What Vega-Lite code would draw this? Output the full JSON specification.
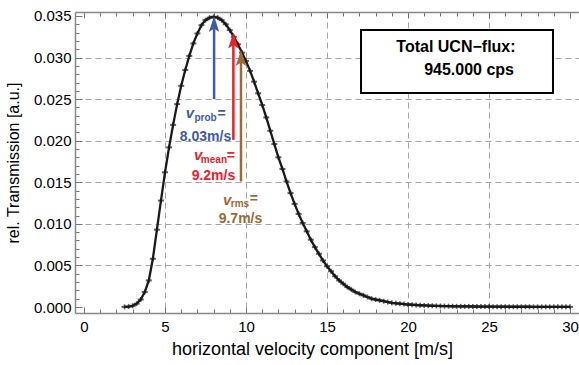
{
  "$schema": "https://vega.github.io/schema/vega-lite/v6.json",
  "width": 504,
  "height": 301,
  "autosize": "none",
  "padding": {"left": 75, "top": 12, "right": 0, "bottom": 52},
  "background": "white",
  "config": {
    "view": {"stroke": null},
    "font": "Liberation Sans",
    "axis": {
      "labelFont": "Liberation Sans",
      "titleFont": "Liberation Sans",
      "labelColor": "black",
      "titleColor": "black",
      "titleFontWeight": "normal",
      "domainColor": "#888888",
      "domainWidth": 1.5,
      "tickColor": "#777777",
      "tickWidth": 1,
      "gridColor": "#a6a6a6",
      "gridDash": [6, 4],
      "gridWidth": 1,
      "labelOverlap": false,
      "labelFlush": false,
      "labelBound": false
    }
  },
  "datasets": {
    "curve": [
      {"v": 2.5, "y": 0.00002}, {"v": 2.75, "y": 0.00005}, {"v": 3.0, "y": 0.00015}, {"v": 3.25, "y": 0.0004},
      {"v": 3.5, "y": 0.0009}, {"v": 3.75, "y": 0.0018}, {"v": 4.0, "y": 0.0032}, {"v": 4.25, "y": 0.0058},
      {"v": 4.5, "y": 0.0093}, {"v": 4.75, "y": 0.0128}, {"v": 5.0, "y": 0.0162}, {"v": 5.25, "y": 0.0192},
      {"v": 5.5, "y": 0.0219}, {"v": 5.75, "y": 0.0244}, {"v": 6.0, "y": 0.0266}, {"v": 6.25, "y": 0.0285},
      {"v": 6.5, "y": 0.0302}, {"v": 6.75, "y": 0.0317}, {"v": 7.0, "y": 0.0329}, {"v": 7.25, "y": 0.0339},
      {"v": 7.5, "y": 0.0345}, {"v": 7.75, "y": 0.0348}, {"v": 8.0, "y": 0.0349}, {"v": 8.25, "y": 0.0348},
      {"v": 8.5, "y": 0.0345}, {"v": 8.75, "y": 0.034}, {"v": 9.0, "y": 0.0333}, {"v": 9.25, "y": 0.0325},
      {"v": 9.5, "y": 0.0316}, {"v": 9.75, "y": 0.0306}, {"v": 10.0, "y": 0.0296}, {"v": 10.25, "y": 0.0284},
      {"v": 10.5, "y": 0.0271}, {"v": 10.75, "y": 0.0257}, {"v": 11.0, "y": 0.0243}, {"v": 11.25, "y": 0.0228},
      {"v": 11.5, "y": 0.0212}, {"v": 11.75, "y": 0.0196}, {"v": 12.0, "y": 0.018}, {"v": 12.25, "y": 0.0166},
      {"v": 12.5, "y": 0.0151}, {"v": 12.75, "y": 0.0137}, {"v": 13.0, "y": 0.0124}, {"v": 13.25, "y": 0.0112},
      {"v": 13.5, "y": 0.0101}, {"v": 13.75, "y": 0.0091}, {"v": 14.0, "y": 0.0081}, {"v": 14.25, "y": 0.0072},
      {"v": 14.5, "y": 0.0064}, {"v": 14.75, "y": 0.0056}, {"v": 15.0, "y": 0.0049}, {"v": 15.25, "y": 0.0043},
      {"v": 15.5, "y": 0.0037}, {"v": 15.75, "y": 0.0032}, {"v": 16.0, "y": 0.0028}, {"v": 16.25, "y": 0.0024},
      {"v": 16.5, "y": 0.0021}, {"v": 16.75, "y": 0.0018}, {"v": 17.0, "y": 0.0016}, {"v": 17.25, "y": 0.0014},
      {"v": 17.5, "y": 0.0012}, {"v": 17.75, "y": 0.001}, {"v": 18.0, "y": 0.0009}, {"v": 18.25, "y": 0.0008},
      {"v": 18.5, "y": 0.0007}, {"v": 18.75, "y": 0.0006}, {"v": 19.0, "y": 0.0005}, {"v": 19.25, "y": 0.00045},
      {"v": 19.5, "y": 0.0004}, {"v": 19.75, "y": 0.00035}, {"v": 20.0, "y": 0.0003}, {"v": 20.25, "y": 0.00027},
      {"v": 20.5, "y": 0.00024}, {"v": 20.75, "y": 0.00021}, {"v": 21.0, "y": 0.00019}, {"v": 21.25, "y": 0.00017},
      {"v": 21.5, "y": 0.00015}, {"v": 21.75, "y": 0.00013}, {"v": 22.0, "y": 0.00012}, {"v": 22.25, "y": 0.00011},
      {"v": 22.5, "y": 0.0001}, {"v": 22.75, "y": 0.00009}, {"v": 23.0, "y": 0.00008}, {"v": 23.25, "y": 0.00008},
      {"v": 23.5, "y": 0.00007}, {"v": 23.75, "y": 0.00007}, {"v": 24.0, "y": 0.00006}, {"v": 24.25, "y": 0.00006},
      {"v": 24.5, "y": 0.00005}, {"v": 24.75, "y": 0.00005}, {"v": 25.0, "y": 0.00005}, {"v": 25.25, "y": 0.00004},
      {"v": 25.5, "y": 0.00004}, {"v": 25.75, "y": 0.00004}, {"v": 26.0, "y": 0.00004}, {"v": 26.25, "y": 0.00003},
      {"v": 26.5, "y": 0.00003}, {"v": 26.75, "y": 0.00003}, {"v": 27.0, "y": 0.00003}, {"v": 27.25, "y": 0.00003},
      {"v": 27.5, "y": 0.00003}, {"v": 27.75, "y": 0.00002}, {"v": 28.0, "y": 0.00002}, {"v": 28.25, "y": 0.00002},
      {"v": 28.5, "y": 0.00002}, {"v": 28.75, "y": 0.00002}, {"v": 29.0, "y": 0.00002}, {"v": 29.25, "y": 0.00002},
      {"v": 29.5, "y": 0.00002}, {"v": 29.75, "y": 0.00002}, {"v": 30.0, "y": 0.00002}
    ],
    "arrows": [
      {"v": 8.03, "y": 0.025, "y1": 0.035, "g": "prob"},
      {"v": 9.22, "y": 0.0201, "y1": 0.033, "g": "mean"},
      {"v": 9.69, "y": 0.0151, "y1": 0.0309, "g": "rms"}
    ],
    "labels": [
      {"v": 6.54, "y": 0.02273, "text": "v", "g": "prob", "k": "v"},
      {"v": 7.5, "y": 0.02237, "text": "prob", "g": "prob", "k": "sub"},
      {"v": 8.49, "y": 0.02279, "text": "=", "g": "prob", "k": "eq"},
      {"v": 7.5, "y": 0.01997, "text": "8.03m/s", "g": "prob", "k": "val"},
      {"v": 7.04, "y": 0.01768, "text": "v", "g": "mean", "k": "v"},
      {"v": 8.02, "y": 0.01732, "text": "mean", "g": "mean", "k": "sub"},
      {"v": 9.07, "y": 0.01774, "text": "=", "g": "mean", "k": "eq"},
      {"v": 7.99, "y": 0.01528, "text": "9.2m/s", "g": "mean", "k": "val"},
      {"v": 8.83, "y": 0.01227, "text": "v", "g": "rms", "k": "v"},
      {"v": 9.63, "y": 0.01203, "text": "rms", "g": "rms", "k": "sub"},
      {"v": 10.49, "y": 0.01245, "text": "=", "g": "rms", "k": "eq"},
      {"v": 9.66, "y": 0.0101, "text": "9.7m/s", "g": "rms", "k": "val"}
    ],
    "box": [{"v": 17.1, "v2": 28.95, "y": 0.02574, "y2": 0.03332}],
    "boxtext": [
      {"v": 22.96, "y": 0.03071, "text": "Total UCN−flux:"},
      {"v": 23.77, "y": 0.0279, "text": "945.000 cps"}
    ]
  },
  "encoding": {
    "x": {"field": "v", "type": "quantitative", "scale": {"domain": [-0.556, 30.556], "nice": false, "zero": false}, "axis": null},
    "y": {"field": "y", "type": "quantitative", "scale": {"domain": [-0.00072, 0.03548], "nice": false, "zero": false}, "axis": null}
  },
  "layer": [
    {
      "data": {"name": "curve"},
      "mark": {"type": "line", "color": "#1a1a1a", "strokeWidth": 2.3},
      "encoding": {
        "x": {
          "field": "v", "type": "quantitative",
          "scale": {"domain": [-0.556, 30.556], "nice": false, "zero": false},
          "axis": {
            "orient": "bottom",
            "values": [0,1,2,3,4,5,6,7,8,9,10,11,12,13,14,15,16,17,18,19,20,21,22,23,24,25,26,27,28,29,30],
            "labelExpr": "datum.value % 5 === 0 ? datum.label : ''",
            "tickSize": {"condition": {"test": "datum.value % 5 === 0", "value": -6}, "value": -4},
            "grid": true,
            "gridOpacity": {"condition": {"test": "datum.value % 5 === 0 && datum.value > 0 && datum.value < 30", "value": 1}, "value": 0},
            "labelFontSize": 15,
            "labelPadding": 12,
            "title": "horizontal velocity component [m/s]",
            "titleFontSize": 18,
            "titleX": 237,
            "titleAlign": "center",
            "titlePadding": 4
          }
        },
        "y": {
          "field": "y", "type": "quantitative",
          "scale": {"domain": [-0.00072, 0.03548], "nice": false, "zero": false},
          "axis": {
            "orient": "left",
            "values": [0,0.001,0.002,0.003,0.004,0.005,0.006,0.007,0.008,0.009,0.01,0.011,0.012,0.013,0.014,0.015,0.016,0.017,0.018,0.019,0.02,0.021,0.022,0.023,0.024,0.025,0.026,0.027,0.028,0.029,0.03,0.031,0.032,0.033,0.034,0.035],
            "labelExpr": "round(datum.value*1000) % 5 === 0 ? format(datum.value, '.3f') : ''",
            "tickSize": {"condition": {"test": "round(datum.value*1000) % 5 === 0", "value": -7}, "value": -4},
            "grid": true,
            "gridOpacity": {"condition": {"test": "round(datum.value*1000) % 5 === 0 && datum.value > 0.0001 && datum.value < 0.034", "value": 1}, "value": 0},
            "labelFontSize": 15,
            "labelPadding": 11,
            "title": "rel. Transmission [a.u.]",
            "titleFontSize": 16,
            "titlePadding": 12
          }
        }
      }
    },
    {
      "data": {"name": "curve"},
      "mark": {"type": "tick", "orient": "vertical", "color": "#1a1a1a", "size": 5, "thickness": 1.6},
      "encoding": {
        "x": {
          "field": "v", "type": "quantitative",
          "scale": {"domain": [-0.556, 30.556], "nice": false, "zero": false},
          "axis": {
            "orient": "top",
            "values": [0,1,2,3,4,5,6,7,8,9,10,11,12,13,14,15,16,17,18,19,20,21,22,23,24,25,26,27,28,29,30],
            "labels": false,
            "grid": false,
            "tickSize": {"condition": {"test": "datum.value % 5 === 0", "value": -6}, "value": -4},
            "title": null
          }
        },
        "y": {"field": "y", "type": "quantitative", "scale": {"domain": [-0.00072, 0.03548], "nice": false, "zero": false}, "axis": null}
      }
    },
    {
      "data": {"name": "curve"},
      "mark": {"type": "tick", "orient": "horizontal", "color": "#1a1a1a", "size": 6, "thickness": 2}
    },
    {
      "data": {"name": "box"},
      "mark": {"type": "rect", "fill": "white", "stroke": "black", "strokeWidth": 2},
      "encoding": {
        "x": {"field": "v", "type": "quantitative", "axis": null},
        "x2": {"field": "v2"},
        "y": {"field": "y", "type": "quantitative", "axis": null},
        "y2": {"field": "y2"}
      }
    },
    {
      "data": {"name": "boxtext"},
      "mark": {"type": "text", "font": "Liberation Sans", "fontSize": 16, "fontWeight": "bold", "color": "black", "align": "center", "baseline": "alphabetic"},
      "encoding": {"text": {"field": "text"}}
    },
    {
      "data": {"name": "arrows"},
      "mark": {"type": "rule", "strokeWidth": 2.5, "y2Offset": 8},
      "encoding": {
        "y2": {"field": "y1"},
        "color": {"field": "g", "type": "nominal", "scale": {"domain": ["prob", "mean", "rms"], "range": ["#3d5ba9", "#e8212b", "#9c6a35"]}, "legend": null}
      }
    },
    {
      "data": {"name": "arrows"},
      "mark": {"type": "point", "shape": "M0,-1L0.65,1L0,0.55L-0.65,1Z", "size": 256, "filled": true, "opacity": 1, "yOffset": 8},
      "encoding": {
        "y": {"field": "y1", "type": "quantitative", "axis": null},
        "color": {"field": "g", "type": "nominal", "legend": null}
      }
    },
    {
      "data": {"name": "labels"},
      "transform": [{"filter": "datum.k === 'v'"}],
      "mark": {"type": "text", "font": "Liberation Sans", "fontSize": 15, "fontWeight": "bold", "fontStyle": "italic", "align": "center", "baseline": "alphabetic"},
      "encoding": {"text": {"field": "text"}, "color": {"field": "g", "type": "nominal", "legend": null}}
    },
    {
      "data": {"name": "labels"},
      "transform": [{"filter": "datum.k === 'sub'"}],
      "mark": {"type": "text", "font": "Liberation Sans", "fontSize": 10, "fontWeight": "bold", "align": "center", "baseline": "alphabetic"},
      "encoding": {"text": {"field": "text"}, "color": {"field": "g", "type": "nominal", "legend": null}}
    },
    {
      "data": {"name": "labels"},
      "transform": [{"filter": "datum.k === 'eq' || datum.k === 'val'"}],
      "mark": {"type": "text", "font": "Liberation Sans", "fontSize": 14, "fontWeight": "bold", "align": "center", "baseline": "alphabetic"},
      "encoding": {"text": {"field": "text"}, "color": {"field": "g", "type": "nominal", "legend": null}}
    }
  ],
  "resolve": {"axis": {"x": "independent", "y": "independent"}}
}
